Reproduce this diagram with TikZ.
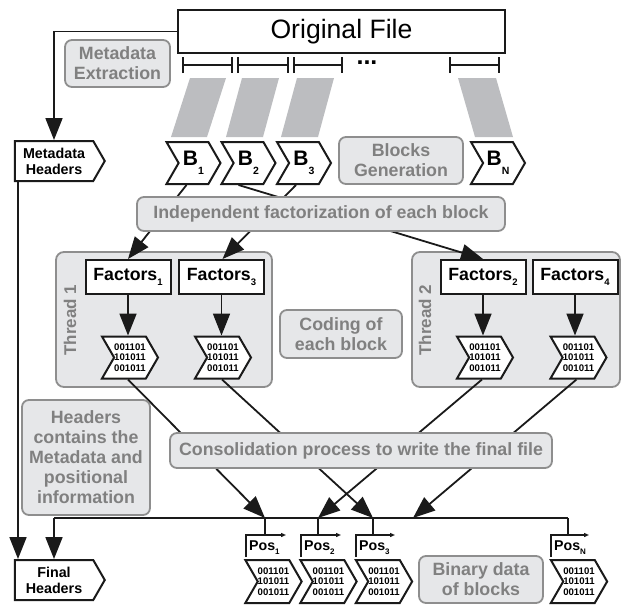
\documentclass[tikz,border=0pt]{standalone}
\usepackage{fontspec}
\setmainfont{Liberation Sans}
\usetikzlibrary{arrows.meta,shapes.symbols,calc}
\pgfdeclarelayer{back}
\pgfdeclarelayer{mid}
\pgfsetlayers{back,mid,main}

\definecolor{boxfill}{HTML}{E6E7E9}
\definecolor{boxline}{HTML}{8E8E8E}
\definecolor{labelgray}{HTML}{808080}
\definecolor{slab}{HTML}{BCBDC0}
\definecolor{ink}{HTML}{1A1A1A}

% lowered index: depth, size, text
\newcommand{\lsub}[3]{\raisebox{-#1}{\fontsize{#2}{#2}\selectfont #3}}

\tikzset{
  note/.style={draw=boxline, fill=boxfill, line width=1.8pt, rounded corners=7pt,
    text=labelgray, font=\fontsize{17.8}{20}\selectfont\bfseries, align=center, inner sep=0pt},
  plainbox/.style={draw=ink, fill=white, line width=2pt, inner sep=0pt},
  chev/.style={shape=signal, signal from=west, signal to=east, signal pointer angle=120,
    draw=ink, fill=white, line width=2pt, inner sep=0pt},
  tagbox/.style={shape=signal, signal to=east, signal pointer angle=120,
    draw=ink, fill=white, line width=2pt, inner sep=0pt, minimum width=90pt, minimum height=40pt,
    font=\fontsize{14.3}{16}\selectfont\bfseries, align=center},
  blk/.style={chev, minimum width=54pt, minimum height=42pt, font=\fontsize{21}{21}\selectfont\bfseries},
  bits/.style={chev, minimum width=56pt, minimum height=42pt,
    font=\fontsize{9.6}{10.4}\selectfont\bfseries, align=center},
  factor/.style={plainbox, minimum width=85pt, minimum height=34pt, font=\fontsize{17.7}{18}\selectfont\bfseries},
  poslabel/.style={anchor=base west, inner sep=0pt, font=\fontsize{14.2}{14}\selectfont\bfseries},
  threadbox/.style={draw=boxline, fill=boxfill, line width=1.8pt, rounded corners=8pt},
  threadlabel/.style={rotate=90, text=labelgray, font=\fontsize{17}{17}\selectfont\bfseries},
  link/.style={draw=ink, line width=1.8pt},
  arr/.style={link, -{Triangle[length=22pt,width=17pt]}},
  span/.style={draw=ink, line width=2pt, {Bar[width=16pt]}-{Bar[width=16pt]}},
  posline/.style={link, -{Triangle[length=5pt,width=4pt]}},
}

\begin{document}
\begin{tikzpicture}[x=1pt,y=-1pt]
\useasboundingbox (0,0) rectangle (622,606);

% ---- source file and its partition ----
\node[plainbox, minimum width=327pt, minimum height=43pt, font=\fontsize{26.6}{30}\selectfont] (OF) at (341.5,31.5) {Original File};
\node[note, minimum width=105pt, minimum height=47pt] (ME) at (117.5,63.5) {Metadata\\Extraction};

\draw[span] (182,65) -- (233,65);
\draw[span] (237,65) -- (289,65);
\draw[span] (293,65) -- (343,65);
\draw[span] (449,65) -- (500,65);
\node[inner sep=0pt, font=\fontsize{25}{25}\selectfont\bfseries] (dots) at (367,63) {...};

\fill[slab] (190,78) -- (226,78) -- (207,137) -- (171,137) -- cycle;
\fill[slab] (242,78) -- (279,78) -- (263,137) -- (226,137) -- cycle;
\fill[slab] (297,78) -- (334,78) -- (318,137) -- (281,137) -- cycle;
\fill[slab] (458,78) -- (496,78) -- (513,137) -- (475,137) -- cycle;

% ---- blocks ----
\node[blk] (B1) at (193.5,163) {B\lsub{9pt}{10.5}{1}};
\node[blk] (B2) at (248.5,163) {B\lsub{9pt}{10.5}{2}};
\node[blk] (B3) at (304,163) {B\lsub{9pt}{10.5}{3}};
\node[blk] (BN) at (498,163) {B\lsub{9pt}{10.5}{N}};
\node[note, minimum width=124pt, minimum height=47pt] (BG) at (401,160.5) {Blocks\\Generation};

\node[tagbox] (MH) at (54,161) {Metadata\\Headers};

\node[note, minimum width=368pt, minimum height=34pt] (IF) at (321,214) {Independent factorization of each block};

% ---- threads ----
\begin{pgfonlayer}{back}
  \draw[threadbox] (56,252) rectangle (272,387);
  \draw[threadbox] (412,252) rectangle (620,387);
\end{pgfonlayer}
\node[threadlabel] (T1) at (70,320) {Thread 1};
\node[threadlabel] (T2) at (425,320) {Thread 2};

\node[factor] (F1) at (128,277) {Factors\lsub{5pt}{9.5}{1}};
\node[factor] (F3) at (221.5,277) {Factors\lsub{5pt}{9.5}{3}};
\node[factor] (F2) at (483,277) {Factors\lsub{5pt}{9.5}{2}};
\node[factor] (F4) at (575,277) {Factors\lsub{5pt}{9.5}{4}};

\node[bits] (C1) at (130,357.5) {001101\\101011\\001011};
\node[bits] (C3) at (223,357.5) {001101\\101011\\001011};
\node[bits] (C2) at (485,357.5) {001101\\101011\\001011};
\node[bits] (C4) at (578.5,357.5) {001101\\101011\\001011};

\node[note, minimum width=122pt, minimum height=48pt] (CE) at (341,334) {Coding of\\each block};

% ---- consolidation ----
\node[note, minimum width=382pt, minimum height=35pt] (CP) at (361,450.5) {Consolidation process to write the final file};
\node[note, minimum width=128pt, minimum height=115pt] (HC) at (86,457.5) {Headers\\contains the\\Metadata and\\positional\\information};

\node[tagbox] (FH) at (54,580) {Final\\Headers};

\node[poslabel] (P1) at (249,550) {Pos\lsub{4pt}{8}{1}};
\node[poslabel] (P2) at (304,550) {Pos\lsub{4pt}{8}{2}};
\node[poslabel] (P3) at (359,550) {Pos\lsub{4pt}{8}{3}};
\node[poslabel] (PN) at (554,550) {Pos\lsub{4pt}{8}{N}};

\node[bits, minimum width=55pt, minimum height=43pt] (D1) at (273.5,581.5) {001101\\101011\\001011};
\node[bits, minimum width=55pt, minimum height=43pt] (D2) at (328.5,581.5) {001101\\101011\\001011};
\node[bits, minimum width=55pt, minimum height=43pt] (D3) at (384,581.5) {001101\\101011\\001011};
\node[bits, minimum width=55pt, minimum height=43pt] (DN) at (579,581.5) {001101\\101011\\001011};

\node[note, minimum width=124pt, minimum height=47pt] (BD) at (481,579.5) {Binary data\\of blocks};

% bus positions and bracket tops
\coordinate (k1) at (265,518);
\coordinate (k2) at (318,518);
\coordinate (k3) at (373,518);
\coordinate (k4) at (413,518);
\coordinate (kN) at (568,518);
\coordinate (t1) at (265,535);
\coordinate (t2) at (318,535);
\coordinate (t3) at (373,535);
\coordinate (tN) at (568,535);

% ---- connectors ----
\begin{pgfonlayer}{mid}
  \draw[arr] (OF.west) -| (MH.north);
  \draw[arr] ([xshift=-36pt]MH.south) -- ([xshift=-36pt]FH.north);

  \draw[arr] ([xshift=-7pt]B1.south) -- (F1.north);
  \draw[arr] ([xshift=-10pt]B2.south) -- (F2.north);
  \draw[arr] ([xshift=-8pt]B3.south) -- ([xshift=1pt]F3.north);

  \draw[arr] (F1) -- (F1 |- C1.north);
  \draw[arr] (F3) -- (F3 |- C3.north);
  \draw[arr] (F2) -- (F2 |- C2.north);
  \draw[arr] (F4) -- (F4 |- C4.north);

  \draw[arr] ([xshift=-2pt]C1.south) -- (k1);
  \draw[arr] ([xshift=-1pt]C3.south) -- (k3);
  \draw[arr] ([xshift=-3pt]C2.south) -- (k2);
  \draw[arr] ([xshift=-2pt]C4.south) -- (k4);

  \draw[link] (FH.north |- k1) -- (kN);
  \draw[arr] (FH.north |- k1) -- (FH.north);

  \draw[link] (k1) -- (t1);
  \draw[link] (k2) -- (t2);
  \draw[link] (k3) -- (t3);
  \draw[link] (kN) -- (tN);

  \draw[posline] (246,557) -- (246,535) -- (286,535);
  \draw[posline] (301,557) -- (301,535) -- (341,535);
  \draw[posline] (356,557) -- (356,535) -- (395,535);
  \draw[posline] (551,557) -- (551,535) -- (589,535);
\end{pgfonlayer}
\end{tikzpicture}
\end{document}
